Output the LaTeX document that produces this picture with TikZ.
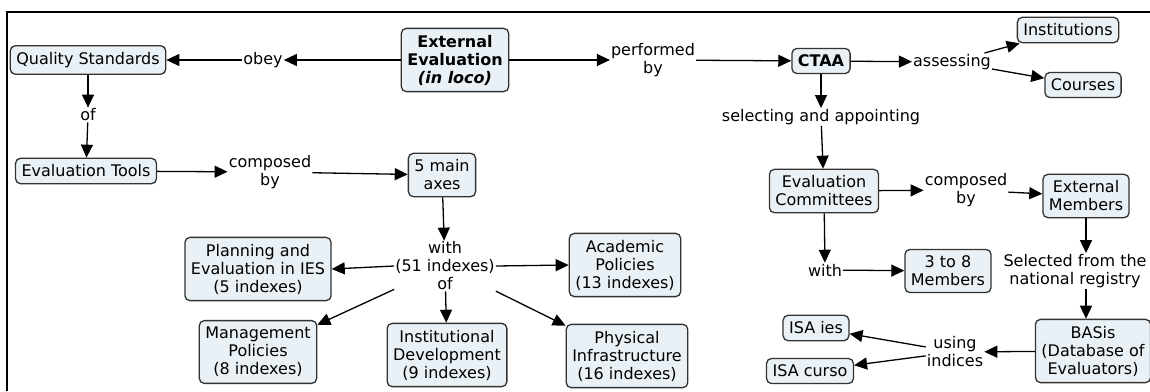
\documentclass[tikz,border=0pt]{standalone}
\usepackage{fontspec}
\setmainfont{DejaVu Sans}
\usepackage{tikz}
\usetikzlibrary{arrows.meta, positioning}
\definecolor{boxfill}{RGB}{233,241,246}
\definecolor{boxline}{RGB}{51,51,51}
\tikzset{
    roundnode/.style = {draw=boxline, fill=boxfill, rectangle, rounded corners=0.5em, line width=1.3pt,
      inner xsep=0.6em, inner ysep=0.65em, node distance=0em},
    textnode/.style  = {draw=none, fill=none, rectangle, inner sep=0.1em, node distance=0em},
    connect/.style = {black, line width=1.3pt, -{Triangle[length=13pt, width=12pt]}},
    frameline/.style = {black, line width=2pt},
    every text node part/.style={align=center}
}

\begin{document}
\begin{tikzpicture}[font=\fontsize{16}{18}\selectfont]
\useasboundingbox (0,0) rectangle (1150pt,-391pt);
\draw [frameline] (7pt,-391pt) -- (7pt,-12pt) -- (1150pt,-12pt);

% left part
\node [roundnode, name=ExtEval] at (455pt,-60pt) {\textbf{External}\\\textbf{Evaluation}\\\textbf{\textit{(in loco)}}};
\node [textnode, name=obey, left of=ExtEval, xshift=-192pt] {obey};
\node [roundnode, name=QS, left of=obey, xshift=-175pt] {Quality Standards};
\node [textnode, name=ofQ, below of=QS, yshift=-55pt] {of};
\node [roundnode, name=Tools, below of=ofQ, xshift=-2pt, yshift=-56pt] {Evaluation Tools};
\node [textnode, name=composedL, right of=Tools, xshift=184pt, yshift=-1pt] {composed\\by};
\node [roundnode, name=axes, right of=composedL, xshift=172pt, yshift=-3pt] {5 main\\axes};

\node [textnode, name=with51, below of=axes, xshift=3pt, yshift=-91pt] {with\\(51 indexes)\\of};
\node [roundnode, name=Planning, left of=with51, xshift=-187pt, yshift=-3pt] {Planning and\\Evaluation in IES\\(5 indexes)};
\node [roundnode, name=Academic, right of=with51, xshift=180pt, yshift=1pt] {Academic\\Policies\\(13 indexes)};
\node [roundnode, name=Management, below of=Planning, yshift=-83pt] {Management\\Policies\\(8 indexes)};
\node [roundnode, name=InstDev, below of=with51, xshift=2pt, yshift=-89pt] {Institutional\\Development\\(9 indexes)};
\node [roundnode, name=Physical, below of=Academic, xshift=2pt, yshift=-91pt] {Physical\\Infrastructure\\(16 indexes)};

% right part
\node [textnode, name=performed, right of=ExtEval, xshift=198pt] {performed\\by};
\node [roundnode, name=CTAA, right of=performed, xshift=168pt, yshift=-1pt] {\textbf{CTAA}};
\node [textnode, name=assessing, right of=CTAA, xshift=131pt, yshift=-1pt] {assessing};
\node [roundnode, name=Institutions, right of=assessing, xshift=116pt, yshift=32pt] {Institutions};
\node [roundnode, name=Courses, right of=assessing, xshift=131pt, yshift=-23pt] {Courses};
\node [textnode, name=selecting, below of=CTAA, yshift=-56pt] {selecting and appointing};
\node [roundnode, name=Committees, below of=selecting, xshift=3pt, yshift=-74pt] {Evaluation\\Committees};
\node [textnode, name=composedR, right of=Committees, xshift=142pt, yshift=1pt] {composed\\by};
\node [roundnode, name=ExtMembers, right of=composedR, xshift=120pt, yshift=-6pt] {External\\Members};
\node [textnode, name=withR, below of=Committees, xshift=1pt, yshift=-79pt] {with};
\node [roundnode, name=three, right of=withR, xshift=123pt, yshift=-1pt] {3 to 8\\Members};
\node [textnode, name=selected, below of=ExtMembers, xshift=-11pt, yshift=-75pt] {Selected from the\\national registry};
\node [roundnode, name=BASis, below of=ExtMembers, xshift=7pt, yshift=-155pt] {BASis\\(Database of\\Evaluators)};
\node [textnode, name=using, left of=BASis, xshift=-138pt, yshift=-1pt] {using\\indices};
\node [roundnode, name=ISAies, left of=using, xshift=-139pt, yshift=24pt] {ISA ies};
\node [roundnode, name=ISAcurso, left of=using, xshift=-145pt, yshift=-19pt] {ISA curso};

\draw (ExtEval) edge[connect] (obey);
\draw (obey) edge[connect] (QS);
\draw (QS) edge[connect] (ofQ);
\draw (ofQ) edge[connect] (Tools);
\draw (Tools) edge[connect] (composedL);
\draw (composedL) edge[connect] (axes);
\draw (axes) edge[connect] (with51);
\draw (with51.west) edge[connect] (Planning.east);
\draw (with51.east) edge[connect] (Academic.west);
\draw (with51) edge[connect] (Management);
\draw (with51) edge[connect] (InstDev);
\draw (with51) edge[connect] (Physical);

\draw (ExtEval) edge[connect] (performed);
\draw (performed) edge[connect] (CTAA);
\draw (CTAA) edge[connect] (assessing);
\draw (assessing) edge[connect] (Institutions);
\draw (assessing) edge[connect] (Courses);
\draw (CTAA) edge[connect] (selecting);
\draw (selecting) edge[connect] (Committees);
\draw (Committees) edge[connect] (composedR);
\draw (composedR) edge[connect] (ExtMembers);
\draw (Committees) edge[connect] (withR);
\draw (withR) edge[connect] (three);
\draw (ExtMembers.south) edge[connect] (ExtMembers.south |- selected.north);
\draw (selected.south -| ExtMembers.south) edge[connect] (BASis.north -| ExtMembers.south);
\draw (BASis) edge[connect] (using);
\draw (using) edge[connect] (ISAies);
\draw (using) edge[connect] (ISAcurso);

\end{tikzpicture}
\end{document}
